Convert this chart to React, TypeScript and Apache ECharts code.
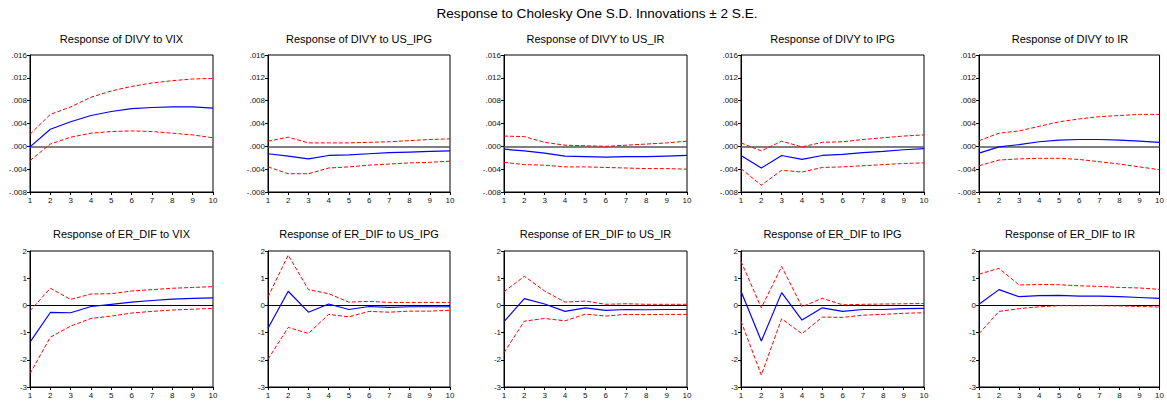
import React, { useEffect, useRef } from "react";
import * as echarts from "echarts";

const periods = ["1", "2", "3", "4", "5", "6", "7", "8", "9", "10"];
const mainTitle = "Response to Cholesky One S.D. Innovations ± 2 S.E.";
const panelTitles = [
  "Response of DIVY to VIX",
  "Response of DIVY to US_IPG",
  "Response of DIVY to US_IR",
  "Response of DIVY to IPG",
  "Response of DIVY to IR",
  "Response of ER_DIF to VIX",
  "Response of ER_DIF to US_IPG",
  "Response of ER_DIF to US_IR",
  "Response of ER_DIF to IPG",
  "Response of ER_DIF to IR",
];

// Row 1: DIVY responses
const divyVixIrf = [-0.0001, 0.003, 0.0043, 0.0054, 0.0061, 0.0066, 0.0068, 0.0069, 0.0069, 0.0067];
const divyVixHi = [0.0021, 0.0056, 0.0069, 0.0086, 0.0097, 0.0105, 0.0111, 0.0115, 0.0118, 0.0119];
const divyVixLo = [-0.0025, 0.0004, 0.0016, 0.0023, 0.0026, 0.0027, 0.0026, 0.0023, 0.002, 0.0015];

const divyUsIpgIrf = [-0.0013, -0.0017, -0.0022, -0.0016, -0.0015, -0.0013, -0.0011, -0.001, -0.0009, -0.0008];
const divyUsIpgHi = [0.0009, 0.0016, 0.0006, 0.0006, 0.0006, 0.0007, 0.0008, 0.001, 0.0012, 0.0013];
const divyUsIpgLo = [-0.0036, -0.0048, -0.0048, -0.0038, -0.0036, -0.0033, -0.0031, -0.0029, -0.0028, -0.0026];

const divyUsIrIrf = [-0.0005, -0.0008, -0.0012, -0.0017, -0.0018, -0.0019, -0.0018, -0.0018, -0.0017, -0.0016];
const divyUsIrHi = [0.0018, 0.0017, 0.0007, 0.0002, 0.0001, 0.0, 0.0002, 0.0004, 0.0006, 0.0009];
const divyUsIrLo = [-0.0028, -0.0032, -0.0033, -0.0036, -0.0036, -0.0037, -0.0038, -0.0039, -0.0039, -0.004];

const divyIpgIrf = [-0.0016, -0.0038, -0.0016, -0.0023, -0.0016, -0.0014, -0.0011, -0.0009, -0.0006, -0.0004];
const divyIpgHi = [0.0006, -0.0008, 0.0009, -0.0001, 0.0007, 0.0008, 0.0012, 0.0015, 0.0018, 0.002];
const divyIpgLo = [-0.0039, -0.0068, -0.0042, -0.0045, -0.0037, -0.0036, -0.0034, -0.0032, -0.003, -0.0029];

const divyIrIrf = [-0.0012, -0.0001, 0.0003, 0.0008, 0.0011, 0.0012, 0.0012, 0.0011, 0.0009, 0.0007];
const divyIrHi = [0.001, 0.0023, 0.0027, 0.0035, 0.0043, 0.0048, 0.0052, 0.0054, 0.0056, 0.0056];
const divyIrLo = [-0.0034, -0.0024, -0.0022, -0.0021, -0.0021, -0.0023, -0.0027, -0.0031, -0.0036, -0.0041];

// Row 2: ER_DIF responses
const erVixIrf = [-1.35, -0.26, -0.27, -0.04, 0.04, 0.12, 0.18, 0.23, 0.26, 0.28];
const erVixHi = [-0.2, 0.63, 0.22, 0.42, 0.43, 0.53, 0.58, 0.63, 0.66, 0.69];
const erVixLo = [-2.51, -1.17, -0.76, -0.48, -0.39, -0.28, -0.22, -0.17, -0.14, -0.11];

const erUsIpgIrf = [-0.84, 0.52, -0.25, 0.05, -0.15, -0.04, -0.07, -0.05, -0.05, -0.05];
const erUsIpgHi = [0.31, 1.85, 0.58, 0.43, 0.12, 0.15, 0.11, 0.11, 0.11, 0.11];
const erUsIpgLo = [-1.98, -0.81, -1.03, -0.33, -0.42, -0.22, -0.25, -0.21, -0.21, -0.18];

const erUsIrIrf = [-0.6, 0.25, 0.05, -0.22, -0.09, -0.18, -0.15, -0.16, -0.15, -0.15];
const erUsIrHi = [0.5, 1.07, 0.53, 0.12, 0.16, 0.04, 0.06, 0.04, 0.04, 0.04];
const erUsIrLo = [-1.74, -0.58, -0.48, -0.57, -0.32, -0.39, -0.33, -0.34, -0.33, -0.33];

const erIpgIrf = [0.52, -1.31, 0.47, -0.54, -0.09, -0.22, -0.15, -0.15, -0.12, -0.11];
const erIpgHi = [1.62, -0.09, 1.43, -0.05, 0.26, 0.02, 0.04, 0.05, 0.06, 0.07];
const erIpgLo = [-0.58, -2.56, -0.49, -1.04, -0.43, -0.44, -0.36, -0.33, -0.29, -0.27];

const erIrIrf = [0.04, 0.58, 0.32, 0.36, 0.37, 0.34, 0.34, 0.32, 0.29, 0.26];
const erIrHi = [1.15, 1.36, 0.75, 0.77, 0.76, 0.72, 0.7, 0.66, 0.64, 0.59];
const erIrLo = [-1.04, -0.22, -0.12, -0.05, -0.01, -0.01, -0.01, -0.02, -0.04, -0.06];

const panels = [
  [divyVixIrf, divyVixHi, divyVixLo],
  [divyUsIpgIrf, divyUsIpgHi, divyUsIpgLo],
  [divyUsIrIrf, divyUsIrHi, divyUsIrLo],
  [divyIpgIrf, divyIpgHi, divyIpgLo],
  [divyIrIrf, divyIrHi, divyIrLo],
  [erVixIrf, erVixHi, erVixLo],
  [erUsIpgIrf, erUsIpgHi, erUsIpgLo],
  [erUsIrIrf, erUsIrHi, erUsIrLo],
  [erIpgIrf, erIpgHi, erIpgLo],
  [erIrIrf, erIrHi, erIrLo],
];

const row1Axis = { min: -0.008, max: 0.016, interval: 0.004 };
const row2Axis = { min: -3, max: 2, interval: 1 };

// Layout
const colLefts = [30, 268, 504, 741, 979];
const colWidths = [183, 182, 183, 183, 182];
const rowTops = [55, 251];
const rowHeights = [137, 136];
const titleYs = [39, 234];

const FONT = "Liberation Sans, Arial, sans-serif";

function fmtRow1(v: number): string {
  const s = Math.abs(v) < 1e-9 ? "0.000" : v.toFixed(3);
  return s.replace(/^(-?)0\./, "$1.");
}

export default function App() {
  const ref = useRef<HTMLDivElement>(null);

  useEffect(() => {
    if (!ref.current) return;
    const chart = echarts.init(ref.current, undefined, { renderer: "svg" });

    const grids: any[] = [];
    const xAxes: any[] = [];
    const yAxes: any[] = [];
    const series: any[] = [];
    const graphics: any[] = [
      {
        type: "text",
        x: 597,
        y: 13,
        style: {
          text: mainTitle,
          fill: "#000",
          font: `13.6px ${FONT}`,
          textAlign: "center",
          textVerticalAlign: "middle",
        },
      },
    ];

    panels.forEach((p, i) => {
      const row = i < 5 ? 0 : 1;
      const col = i % 5;
      const left = colLefts[col];
      const width = colWidths[col];
      grids.push({
        left,
        top: rowTops[row],
        width,
        height: rowHeights[row],
        show: true,
        borderColor: "#000",
        borderWidth: 1,
        backgroundColor: "#fff",
      });
      graphics.push({
        type: "text",
        x: left + width / 2,
        y: titleYs[row],
        style: {
          text: panelTitles[i],
          fill: "#000",
          font: `11px ${FONT}`,
          textAlign: "center",
          textVerticalAlign: "middle",
        },
      });
      xAxes.push({
        type: "category",
        gridIndex: i,
        data: periods,
        boundaryGap: false,
        axisLine: { onZero: false, lineStyle: { color: "#000", width: 1 } },
        axisTick: { show: true, length: 3, lineStyle: { color: "#000" } },
        axisLabel: { fontSize: 8, color: "#111", margin: 4, fontFamily: FONT, interval: 0 },
        splitLine: { show: false },
      });
      const ax = row === 0 ? row1Axis : row2Axis;
      yAxes.push({
        type: "value",
        gridIndex: i,
        min: ax.min,
        max: ax.max,
        interval: ax.interval,
        axisLine: { show: true, lineStyle: { color: "#000", width: 1 } },
        axisTick: { show: true, length: 3, lineStyle: { color: "#000" } },
        axisLabel: {
          fontSize: 8,
          color: "#111",
          margin: 3,
          fontFamily: FONT,
          formatter: row === 0 ? (v: number) => fmtRow1(v) : (v: number) => String(Math.round(v)),
        },
        splitLine: { show: false },
      });
      const [irf, hi, lo] = p;
      series.push({
        type: "line",
        xAxisIndex: i,
        yAxisIndex: i,
        data: hi,
        symbol: "none",
        lineStyle: { color: "#ff0000", width: 1, type: [4, 2] },
        silent: true,
        z: 2,
      });
      series.push({
        type: "line",
        xAxisIndex: i,
        yAxisIndex: i,
        data: lo,
        symbol: "none",
        lineStyle: { color: "#ff0000", width: 1, type: [4, 2] },
        silent: true,
        z: 2,
      });
      series.push({
        type: "line",
        xAxisIndex: i,
        yAxisIndex: i,
        data: irf,
        symbol: "none",
        lineStyle: { color: "#0000ff", width: 1.2 },
        silent: true,
        z: 3,
        markLine: {
          silent: true,
          symbol: ["none", "none"],
          label: { show: false },
          lineStyle: row === 0
            ? { color: "#555", type: "solid", width: 1.5 }
            : { color: "#000", type: "solid", width: 1 },
          data: [{ yAxis: 0 }],
          z: 1,
        },
      });
    });

    chart.setOption({
      animation: false,
      backgroundColor: "#fff",
      grid: grids,
      xAxis: xAxes,
      yAxis: yAxes,
      series,
      graphic: graphics,
    });

    return () => chart.dispose();
  }, []);

  return (
    <div
      ref={ref}
      style={{ position: "fixed", left: 0, top: 0, width: 1167, height: 404, background: "#fff" }}
    />
  );
}
